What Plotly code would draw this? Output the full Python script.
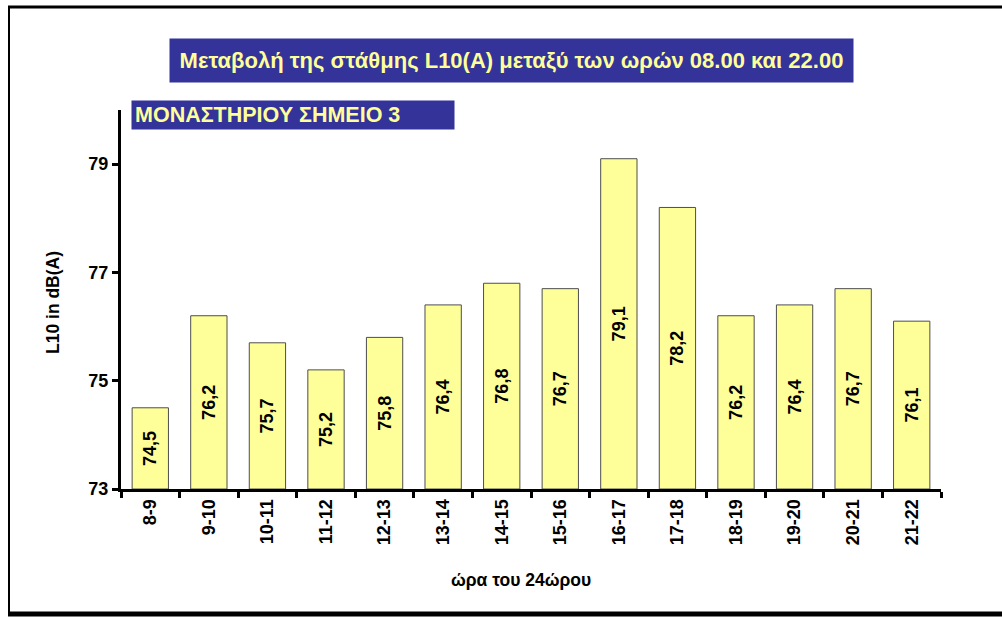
import plotly.graph_objects as go

# Hourly periods and L10 levels
hours = ["8-9", "9-10", "10-11", "11-12", "12-13", "13-14", "14-15",
         "15-16", "16-17", "17-18", "18-19", "19-20", "20-21", "21-22"]
l10_values = [74.5, 76.2, 75.7, 75.2, 75.8, 76.4, 76.8,
              76.7, 79.1, 78.2, 76.2, 76.4, 76.7, 76.1]
y_ticks = [73, 75, 77, 79]
y_floor = 73

title_text = "Μεταβολή της στάθμης L10(A) μεταξύ των ωρών 08.00 και 22.00"
station_text = "ΜΟΝΑΣΤΗΡΙΟΥ ΣΗΜΕΙΟ 3"
x_title = "ώρα του 24ώρου"
y_title = "L10 in dB(A)"

W, H = 1002, 617
L, R, T, B = 121, 941, 110, 489  # plot area in pixels
pw, ph = R - L, B - T


def px_x(x):
    return (x - L) / pw


def px_y(y):
    return (B - y) / ph


FONT = "Liberation Sans, Arial, sans-serif"
NAVY = "#333399"
PALE = "#FFFF99"

fig = go.Figure(
    go.Bar(
        x=hours,
        y=[v - y_floor for v in l10_values],
        base=y_floor,
        width=0.62,
        marker=dict(color=PALE, line=dict(color="#4d4d4d", width=1)),
        text=[f"<b>{v:.1f}</b>".replace(".", ",") for v in l10_values],
        textposition="inside",
        insidetextanchor="middle",
        textangle=-90,
        textfont=dict(family=FONT, size=18, color="black"),
        hoverinfo="skip",
    )
)

fig.update_layout(
    width=W,
    height=H,
    margin=dict(l=L, r=W - R, t=T, b=H - B, autoexpand=False),
    paper_bgcolor="white",
    plot_bgcolor="white",
    showlegend=False,
    font=dict(family=FONT, size=17, color="black"),
)

fig.update_xaxes(
    type="category",
    showline=True,
    linecolor="black",
    linewidth=3,
    ticks="outside",
    tickson="boundaries",
    ticklen=6,
    tickwidth=3,
    tickcolor="black",
    tickangle=-90,
    tickfont=dict(family=FONT, size=18, color="black", weight="bold"),
    showgrid=False,
)

fig.update_yaxes(
    range=[73, 80],
    tickvals=y_ticks,
    ticktext=[f"<b>{v}</b>" for v in y_ticks],
    showline=True,
    linecolor="black",
    linewidth=3,
    ticks="outside",
    ticklen=6,
    tickwidth=3,
    tickcolor="black",
    tickfont=dict(family=FONT, size=18, color="black"),
    showgrid=False,
    zeroline=False,
)

# Axis titles
fig.add_annotation(
    xref="paper", yref="paper", x=px_x(521), y=px_y(580),
    xanchor="center", yanchor="middle", showarrow=False,
    text=f"<b>{x_title}</b>", font=dict(family=FONT, size=17.5, color="black"),
)
fig.add_annotation(
    xref="paper", yref="paper", x=px_x(53), y=px_y(303),
    xanchor="center", yanchor="middle", showarrow=False, textangle=-90,
    text=f"<b>{y_title}</b>", font=dict(family=FONT, size=17.5, color="black"),
)

# Title banners
fig.add_annotation(
    xref="paper", yref="paper",
    x=px_x(169), y=px_y(38), xanchor="left", yanchor="top",
    text=f"<b>{title_text}</b>",
    showarrow=False, align="center",
    width=683, height=43, borderpad=0,
    bgcolor=NAVY, font=dict(family=FONT, size=22, color=PALE),
)
fig.add_annotation(
    xref="paper", yref="paper",
    x=px_x(131), y=px_y(100), xanchor="left", yanchor="top",
    text=f"<b>{station_text}</b>",
    showarrow=False, align="left",
    width=316, height=22, borderpad=3,
    bgcolor=NAVY, font=dict(family=FONT, size=21.5, color=PALE),
)

# Outer chart frame with shadowed bottom edge
frame = dict(xref="paper", yref="paper", type="line", layer="above")
fig.add_shape(**frame, x0=px_x(9), x1=px_x(9), y0=px_y(7), y1=px_y(614),
              line=dict(color="black", width=2))
fig.add_shape(**frame, x0=px_x(8), x1=px_x(1010), y0=px_y(7), y1=px_y(7),
              line=dict(color="black", width=3))
fig.add_shape(**frame, x0=px_x(8), x1=px_x(1010), y0=px_y(614), y1=px_y(614),
              line=dict(color="black", width=5))

fig.write_html("out.html")
